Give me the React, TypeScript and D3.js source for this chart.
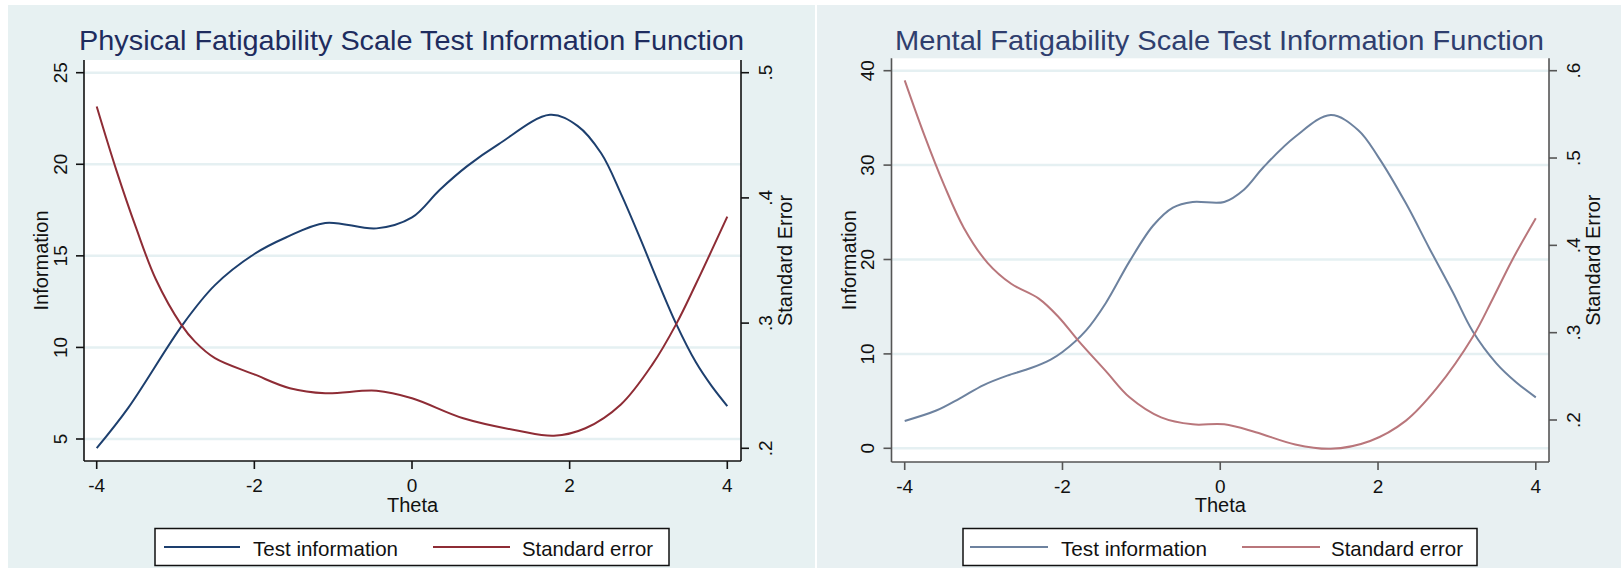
import React from "react";
import * as d3 from "d3";

// shared axis ticks
const thetaTicks = [-4, -2, 0, 2, 4];
const physInfoTicks = [5, 10, 15, 20, 25];
const physSeTicks = [0.2, 0.3, 0.4, 0.5];
const mentInfoTicks = [0, 10, 20, 30, 40];
const mentSeTicks = [0.2, 0.3, 0.4, 0.5, 0.6];

// Physical fatigability scale
const physInfoTheta = [-4, -3.6, -2.9, -2.5, -2, -1.6, -1.1, -0.45, 0, 0.35, 0.7, 1.1, 1.75, 2.1, 2.4, 2.65, 2.9, 3.1, 3.35, 3.6, 3.8, 4];
const physInfo = [4.5, 6.7, 11.3, 13.4, 15.1, 16.0, 16.8, 16.5, 17.1, 18.6, 19.9, 21.1, 22.7, 22.1, 20.6, 18.4, 15.9, 13.8, 11.3, 9.2, 7.9, 6.8];
const physSeTheta = [-4, -3.75, -3.5, -3.25, -2.93, -2.75, -2.5, -2, -1.55, -1.1, -0.45, 0, 0.65, 1.35, 1.8, 2.2, 2.65, 3.05, 3.35, 3.6, 4];
const physSe = [0.473, 0.422, 0.376, 0.335, 0.299, 0.285, 0.272, 0.259, 0.248, 0.244, 0.246, 0.24, 0.224, 0.214, 0.21, 0.216, 0.235, 0.267, 0.299, 0.331, 0.385];

// Mental fatigability scale
const mentInfoTheta = [-4, -3.6, -3.3, -3, -2.7, -2.4, -2.15, -2, -1.7, -1.45, -1.15, -0.85, -0.6, -0.35, 0.05, 0.3, 0.55, 0.95, 1.4, 1.75, 2, 2.35, 2.65, 2.95, 3.2, 3.5, 3.75, 4];
const mentInfo = [2.9, 4.0, 5.3, 6.7, 7.7, 8.5, 9.4, 10.2, 12.5, 15.4, 19.8, 23.6, 25.5, 26.1, 26.1, 27.4, 29.8, 33.0, 35.3, 33.7, 30.9, 26.0, 21.2, 16.5, 12.4, 9.0, 7.0, 5.4];
const mentSeTheta = [-4, -3.75, -3.5, -3.25, -2.95, -2.65, -2.3, -2.05, -1.8, -1.45, -1.15, -0.75, -0.35, 0.05, 0.45, 0.95, 1.4, 1.9, 2.35, 2.75, 3.2, 3.45, 3.7, 4];
const mentSe = [0.589, 0.526, 0.469, 0.42, 0.38, 0.356, 0.339, 0.318, 0.291, 0.256, 0.226, 0.203, 0.195, 0.195, 0.186, 0.172, 0.167, 0.176, 0.199, 0.237, 0.295, 0.338, 0.383, 0.431];

const legendLabels = ["Test information", "Standard error"];

const SANS = "'Liberation Sans', Arial, Helvetica, sans-serif";

const seLabel = (v: number) => d3.format(".1f")(v).replace(/^0/, "");

type PanelProps = {
  title: string;
  titleX: number;
  titleW: number;
  bg: [number, number, number, number];
  bgColor: string;
  plot: { l: number; r: number; t: number; b: number };
  xRange: [number, number];
  infoTicks: number[];
  infoPx: [number, number];
  seTicks: number[];
  sePx: [number, number];
  infoTheta: number[];
  info: number[];
  seTheta: number[];
  se: number[];
  blue: string;
  red: string;
  titleColor: string;
  axisColor: string;
  legend: { l: number; r: number; s1: [number, number]; t1: [number, number]; s2: [number, number]; t2: [number, number] };
};

function Panel(p: PanelProps) {
  const { plot } = p;
  const x = d3.scaleLinear().domain([-4, 4]).range(p.xRange);
  const yInfo = d3
    .scaleLinear()
    .domain([p.infoTicks[0], p.infoTicks[p.infoTicks.length - 1]])
    .range(p.infoPx);
  const ySe = d3
    .scaleLinear()
    .domain([p.seTicks[0], p.seTicks[p.seTicks.length - 1]])
    .range(p.sePx);

  const infoLine = d3
    .line<number>()
    .x((_, i) => x(p.infoTheta[i]))
    .y((d) => yInfo(d))
    .curve(d3.curveCatmullRom.alpha(0.5));
  const seLine = d3
    .line<number>()
    .x((_, i) => x(p.seTheta[i]))
    .y((d) => ySe(d))
    .curve(d3.curveCatmullRom.alpha(0.5));

  const midY = (plot.t + plot.b) / 2;
  const lg = p.legend;
  const lgY = 547;

  return (
    <g>
      <rect x={p.bg[0]} y={p.bg[1]} width={p.bg[2]} height={p.bg[3]} fill={p.bgColor} />
      <text
        x={p.titleX}
        y={50}
        fontFamily={SANS}
        fontSize={28}
        fill={p.titleColor}
        textLength={p.titleW}
        lengthAdjust="spacingAndGlyphs"
      >
        {p.title}
      </text>
      <rect x={plot.l} y={plot.t} width={plot.r - plot.l} height={plot.b - plot.t} fill="#ffffff" />
      {p.infoTicks.map((t) => (
        <line key={"g" + t} x1={plot.l} x2={plot.r} y1={yInfo(t)} y2={yInfo(t)} stroke="#e5f0f2" strokeWidth={2.5} />
      ))}

      <path d={infoLine(p.info) || ""} fill="none" stroke={p.blue} strokeWidth={2} />
      <path d={seLine(p.se) || ""} fill="none" stroke={p.red} strokeWidth={2} />

      {/* axes */}
      <g stroke={p.axisColor} strokeWidth={1.6}>
        <line x1={plot.l} x2={plot.l} y1={plot.t} y2={plot.b} />
        <line x1={plot.r} x2={plot.r} y1={plot.t} y2={plot.b} />
        <line x1={plot.l} x2={plot.r} y1={plot.b} y2={plot.b} />
        {p.infoTicks.map((t) => (
          <line key={"lt" + t} x1={plot.l - 8} x2={plot.l} y1={yInfo(t)} y2={yInfo(t)} />
        ))}
        {p.seTicks.map((t) => (
          <line key={"rt" + t} x1={plot.r} x2={plot.r + 8} y1={ySe(t)} y2={ySe(t)} />
        ))}
        {thetaTicks.map((t) => (
          <line key={"xt" + t} x1={x(t)} x2={x(t)} y1={plot.b} y2={plot.b + 8} />
        ))}
      </g>

      <g fontFamily={SANS} fontSize={19} fill="#111">
        {p.infoTicks.map((t) => (
          <text key={"ll" + t} transform={`translate(${plot.l - 24},${yInfo(t)}) rotate(-90)`} textAnchor="middle" dy="0.35em">
            {t}
          </text>
        ))}
        {p.seTicks.map((t) => (
          <text key={"rl" + t} transform={`translate(${plot.r + 24},${ySe(t)}) rotate(-90)`} textAnchor="middle" dy="0.35em">
            {seLabel(t)}
          </text>
        ))}
        {thetaTicks.map((t) => (
          <text key={"xl" + t} x={x(t)} y={plot.b + 31} textAnchor="middle">
            {t}
          </text>
        ))}
      </g>

      <g fontFamily={SANS} fontSize={20} fill="#111">
        <text x={(plot.l + plot.r) / 2} y={512} textAnchor="middle">
          Theta
        </text>
        <text transform={`translate(${plot.l - 43},${midY}) rotate(-90)`} textAnchor="middle" dy="0.35em">
          Information
        </text>
        <text transform={`translate(${plot.r + 44},${midY}) rotate(-90)`} textAnchor="middle" dy="0.35em">
          Standard Error
        </text>
      </g>

      {/* legend */}
      <rect x={lg.l} y={528.5} width={lg.r - lg.l} height={37} fill="#ffffff" stroke="#111" strokeWidth={1.5} />
      <line x1={lg.s1[0]} x2={lg.s1[1]} y1={lgY} y2={lgY} stroke={p.blue} strokeWidth={2.2} />
      <line x1={lg.s2[0]} x2={lg.s2[1]} y1={lgY} y2={lgY} stroke={p.red} strokeWidth={2.2} />
      <g fontFamily={SANS} fontSize={21} fill="#111">
        <text x={lg.t1[0]} y={556} textLength={lg.t1[1] - lg.t1[0]} lengthAdjust="spacingAndGlyphs">
          {legendLabels[0]}
        </text>
        <text x={lg.t2[0]} y={556} textLength={lg.t2[1] - lg.t2[0]} lengthAdjust="spacingAndGlyphs">
          {legendLabels[1]}
        </text>
      </g>
    </g>
  );
}

export default function App() {
  return (
    <svg
      width={1621}
      height={568}
      style={{ position: "absolute", left: 0, top: 0, background: "#ffffff" }}
    >
      <Panel
        title="Physical Fatigability Scale Test Information Function"
        titleX={79}
        titleW={665}
        bg={[8, 5, 807, 563]}
        bgColor="#e7f1f2"
        plot={{ l: 84, r: 741, t: 60, b: 461 }}
        xRange={[96.7, 727.3]}
        infoTicks={physInfoTicks}
        infoPx={[439, 72.7]}
        seTicks={physSeTicks}
        sePx={[448.3, 72.7]}
        infoTheta={physInfoTheta}
        info={physInfo}
        seTheta={physSeTheta}
        se={physSe}
        blue="#1d3f6e"
        red="#8e2c35"
        titleColor="#1e2c5e"
        axisColor="#111"
        legend={{ l: 155, r: 669, s1: [164, 240], t1: [253, 398], s2: [433, 510], t2: [522, 653] }}
      />
      <Panel
        title="Mental Fatigability Scale Test Information Function"
        titleX={895}
        titleW={649}
        bg={[817, 5, 804, 563]}
        bgColor="#e8f0f2"
        plot={{ l: 891.5, r: 1549, t: 58.3, b: 462 }}
        xRange={[904.7, 1535.8]}
        infoTicks={mentInfoTicks}
        infoPx={[448.3, 70.7]}
        seTicks={mentSeTicks}
        sePx={[420, 70.7]}
        infoTheta={mentInfoTheta}
        info={mentInfo}
        seTheta={mentSeTheta}
        se={mentSe}
        blue="#6d829f"
        red="#b9767b"
        titleColor="#2f3e6e"
        axisColor="#555"
        legend={{ l: 963, r: 1477, s1: [970, 1048], t1: [1061, 1207], s2: [1242, 1320], t2: [1331, 1463] }}
      />
    </svg>
  );
}
